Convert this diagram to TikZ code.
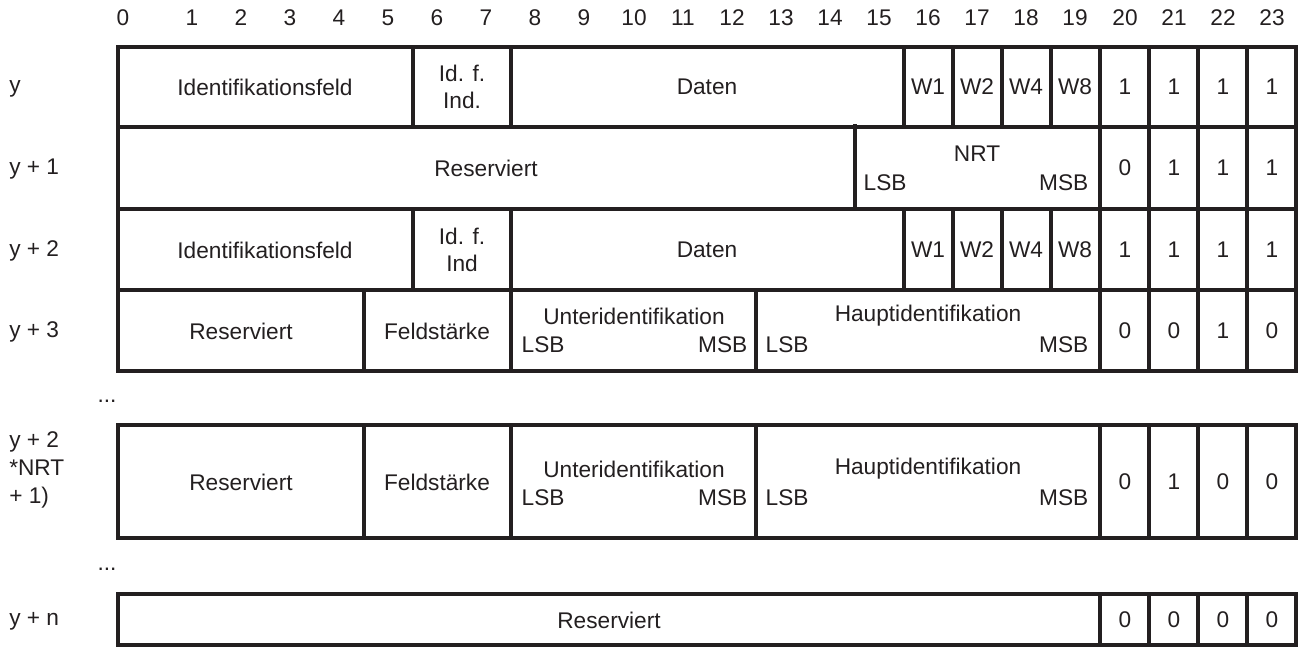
\documentclass[tikz,border=0pt]{standalone}
\usepackage{fontspec}
\setmainfont{Liberation Sans}
\definecolor{ink}{RGB}{35,31,32}
\begin{document}
\begin{tikzpicture}[x=0.75pt,y=0.75pt,yscale=-1,
  frame/.style={line width=2.6pt,color=ink},
  txt/.style={font=\fontsize{17}{20}\selectfont,text=ink},
  rowlbl/.style={txt,anchor=west,align=left,inner sep=0pt}]
\useasboundingbox (0,0) rectangle (1298,647);

%Shape: Grid rows y .. y+3
\draw [frame] (118,47) rectangle (1296,371) ;
\draw [frame] (118,127) -- (1296,127) (118,209) -- (1296,209) (118,290) -- (1296,290) ;
%Row y
\draw [frame] (413,47) -- (413,127) (511,47) -- (511,127) (904,47) -- (904,127) (953,47) -- (953,127) (1002,47) -- (1002,127) (1051,47) -- (1051,127) (1100,47) -- (1100,127) (1149,47) -- (1149,127) (1198,47) -- (1198,127) (1247,47) -- (1247,127) ;
%Row y+1
\draw [frame] (855,124) -- (855,209) (1100,127) -- (1100,209) (1149,127) -- (1149,209) (1198,127) -- (1198,209) (1247,127) -- (1247,209) ;
%Row y+2
\draw [frame] (413,209) -- (413,290) (511,209) -- (511,290) (904,209) -- (904,290) (953,209) -- (953,290) (1002,209) -- (1002,290) (1051,209) -- (1051,290) (1100,209) -- (1100,290) (1149,209) -- (1149,290) (1198,209) -- (1198,290) (1247,209) -- (1247,290) ;
%Row y+3
\draw [frame] (364,290) -- (364,371) (511,290) -- (511,371) (756,290) -- (756,371) (1100,290) -- (1100,371) (1149,290) -- (1149,371) (1198,290) -- (1198,371) (1247,290) -- (1247,371) ;

%Shape: Row y+2*NRT+1
\draw [frame] (118,425) rectangle (1296,538) ;
\draw [frame] (364,425) -- (364,538) (511,425) -- (511,538) (756,425) -- (756,538) (1100,425) -- (1100,538) (1149,425) -- (1149,538) (1198,425) -- (1198,538) (1247,425) -- (1247,538) ;

%Shape: Row y+n
\draw [frame] (118,594) rectangle (1296,645) ;
\draw [frame] (1100,594) -- (1100,645) (1149,594) -- (1149,645) (1198,594) -- (1198,645) (1247,594) -- (1247,645) ;

% Text Node
\draw (123,18) node [txt] (h0) {0};
% Text Node
\draw (192,18) node [txt] (h1) {1};
% Text Node
\draw (241,18) node [txt] (h2) {2};
% Text Node
\draw (290,18) node [txt] (h3) {3};
% Text Node
\draw (339,18) node [txt] (h4) {4};
% Text Node
\draw (388,18) node [txt] (h5) {5};
% Text Node
\draw (437,18) node [txt] (h6) {6};
% Text Node
\draw (486,18) node [txt] (h7) {7};
% Text Node
\draw (535,18) node [txt] (h8) {8};
% Text Node
\draw (584,18) node [txt] (h9) {9};
% Text Node
\draw (634,18) node [txt] (h10) {10};
% Text Node
\draw (683,18) node [txt] (h11) {11};
% Text Node
\draw (732,18) node [txt] (h12) {12};
% Text Node
\draw (781,18) node [txt] (h13) {13};
% Text Node
\draw (830,18) node [txt] (h14) {14};
% Text Node
\draw (879,18) node [txt] (h15) {15};
% Text Node
\draw (928,18) node [txt] (h16) {16};
% Text Node
\draw (977,18) node [txt] (h17) {17};
% Text Node
\draw (1026,18) node [txt] (h18) {18};
% Text Node
\draw (1075,18) node [txt] (h19) {19};
% Text Node
\draw (1125,18) node [txt] (h20) {20};
% Text Node
\draw (1174,18) node [txt] (h21) {21};
% Text Node
\draw (1223,18) node [txt] (h22) {22};
% Text Node
\draw (1272,18) node [txt] (h23) {23};

% Text Node
\draw (9,89) node [rowlbl] (ly0) {y};
% Text Node
\draw (9,169) node [rowlbl] (ly1) {y + 1};
% Text Node
\draw (9,251) node [rowlbl] (ly2) {y + 2};
% Text Node
\draw (9,332) node [rowlbl] (ly3) {y + 3};
% Text Node
\draw (107,401) node [txt] (dots1) {...};
% Text Node
\draw (9,470) node [rowlbl] (lyk) {y + 2\\[1pt]*NRT\\[1pt]+ 1)};
% Text Node
\draw (107,569) node [txt] (dots2) {...};
% Text Node
\draw (9,621) node [rowlbl] (lyn) {y + n};

% Text Node
\draw (265,87) node [txt] (idf0) {Identifikationsfeld};
% Text Node
\draw (462,87) node [txt,align=center] (ind0) {Id. f.\\Ind.};
% Text Node
\draw (707,87) node [txt] (dat0) {Daten};
% Text Node
\draw (928,87) node [txt] (wa0) {W1};
% Text Node
\draw (977,87) node [txt] (wb0) {W2};
% Text Node
\draw (1026,87) node [txt] (wc0) {W4};
% Text Node
\draw (1075,87) node [txt] (wd0) {W8};
% Text Node
\draw (1125,87) node [txt] (b20a) {1};
% Text Node
\draw (1174,87) node [txt] (b21a) {1};
% Text Node
\draw (1223,87) node [txt] (b22a) {1};
% Text Node
\draw (1272,87) node [txt] (b23a) {1};

% Text Node
\draw (486,168) node [txt] (res1) {Reserviert};
% Text Node
\draw (977,154) node [txt] (nrt) {NRT};
% Text Node
\draw (859,183) node [txt,anchor=west] (nrtl) {LSB};
% Text Node
\draw (1093,183) node [txt,anchor=east] (nrtm) {MSB};
% Text Node
\draw (1125,168) node [txt] (b20b) {0};
% Text Node
\draw (1174,168) node [txt] (b21b) {1};
% Text Node
\draw (1223,168) node [txt] (b22b) {1};
% Text Node
\draw (1272,168) node [txt] (b23b) {1};

% Text Node
\draw (265,250) node [txt] (idf2) {Identifikationsfeld};
% Text Node
\draw (462,250) node [txt,align=center] (ind2) {Id. f.\\Ind};
% Text Node
\draw (707,250) node [txt] (dat2) {Daten};
% Text Node
\draw (928,250) node [txt] (wa2) {W1};
% Text Node
\draw (977,250) node [txt] (wb2) {W2};
% Text Node
\draw (1026,250) node [txt] (wc2) {W4};
% Text Node
\draw (1075,250) node [txt] (wd2) {W8};
% Text Node
\draw (1125,250) node [txt] (b20c) {1};
% Text Node
\draw (1174,250) node [txt] (b21c) {1};
% Text Node
\draw (1223,250) node [txt] (b22c) {1};
% Text Node
\draw (1272,250) node [txt] (b23c) {1};

% Text Node
\draw (241,331) node [txt] (res3) {Reserviert};
% Text Node
\draw (437,331) node [txt] (fst3) {Feldstärke};
% Text Node
\draw (634,316) node [txt] (uid3) {Unteridentifikation};
% Text Node
\draw (517,345) node [txt,anchor=west] (uidl3) {LSB};
% Text Node
\draw (752,345) node [txt,anchor=east] (uidm3) {MSB};
% Text Node
\draw (928,316) node [txt] (hid3) {Hauptidentifikation};
% Text Node
\draw (761,345) node [txt,anchor=west] (hidl3) {LSB};
% Text Node
\draw (1093,345) node [txt,anchor=east] (hidm3) {MSB};
% Text Node
\draw (1125,331) node [txt] (b20d) {0};
% Text Node
\draw (1174,331) node [txt] (b21d) {0};
% Text Node
\draw (1223,331) node [txt] (b22d) {1};
% Text Node
\draw (1272,331) node [txt] (b23d) {0};

% Text Node
\draw (241,482) node [txt] (res5) {Reserviert};
% Text Node
\draw (437,482) node [txt] (fst5) {Feldstärke};
% Text Node
\draw (634,469) node [txt] (uid5) {Unteridentifikation};
% Text Node
\draw (517,498) node [txt,anchor=west] (uidl5) {LSB};
% Text Node
\draw (752,498) node [txt,anchor=east] (uidm5) {MSB};
% Text Node
\draw (928,469) node [txt] (hid5) {Hauptidentifikation};
% Text Node
\draw (761,498) node [txt,anchor=west] (hidl5) {LSB};
% Text Node
\draw (1093,498) node [txt,anchor=east] (hidm5) {MSB};
% Text Node
\draw (1125,482) node [txt] (b20e) {0};
% Text Node
\draw (1174,482) node [txt] (b21e) {1};
% Text Node
\draw (1223,482) node [txt] (b22e) {0};
% Text Node
\draw (1272,482) node [txt] (b23e) {0};

% Text Node
\draw (609,620) node [txt] (res6) {Reserviert};
% Text Node
\draw (1125,620) node [txt] (b20f) {0};
% Text Node
\draw (1174,620) node [txt] (b21f) {0};
% Text Node
\draw (1223,620) node [txt] (b22f) {0};
% Text Node
\draw (1272,620) node [txt] (b23f) {0};

\end{tikzpicture}
\end{document}
